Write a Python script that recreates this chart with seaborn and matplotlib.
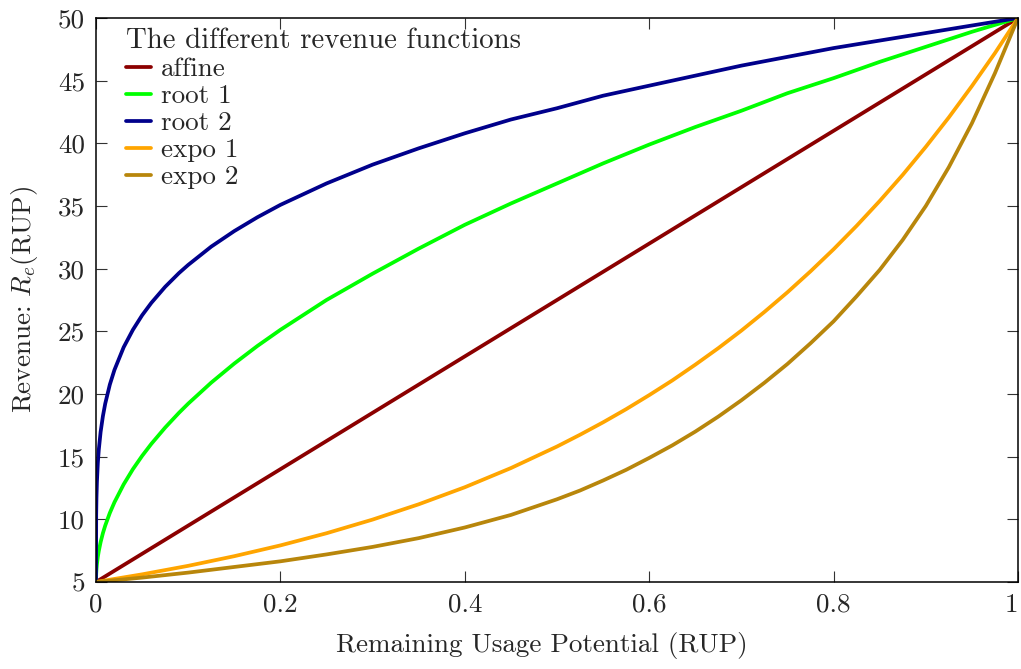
import pandas as pd
import matplotlib
matplotlib.use("Agg")
import matplotlib.pyplot as plt
import seaborn as sns

# values
x_root = [0, 0.0002, 0.0005, 0.001, 0.002, 0.003, 0.005, 0.0075, 0.01, 0.015,
          0.02, 0.03, 0.04, 0.05, 0.06, 0.075, 0.09, 0.1, 0.125, 0.15, 0.175,
          0.2, 0.25, 0.3, 0.35, 0.4, 0.45, 0.5, 0.55, 0.6, 0.65, 0.7, 0.75,
          0.8, 0.85, 0.9, 0.95, 1]
root1 = [5, 5.64, 6.0, 6.42, 7.01, 7.46, 8.18, 8.9, 9.5, 10.51,
         11.36, 12.79, 14.0, 15.06, 16.02, 17.32, 18.5, 19.23, 20.91, 22.43, 23.83,
         25.12, 27.5, 29.6, 31.6, 33.5, 35.2, 36.8, 38.4, 39.9, 41.3, 42.6, 44.0,
         45.2, 46.5, 47.7, 48.9, 50]
root2 = [5, 10.35, 11.73, 13.0, 14.52, 15.53, 16.97, 18.24, 19.23, 20.75,
         21.92, 23.73, 25.12, 26.28, 27.27, 28.55, 29.65, 30.3, 31.76, 33.0, 34.1,
         35.09, 36.8, 38.3, 39.6, 40.8, 41.9, 42.8, 43.8, 44.6, 45.4, 46.2, 46.9,
         47.6, 48.2, 48.8, 49.4, 50]

x_lin = [0, 1]
affine = [5, 50]

x_expo = [0, 0.05, 0.1, 0.15, 0.2, 0.25, 0.3, 0.35, 0.4, 0.45, 0.5, 0.525,
          0.55, 0.575, 0.6, 0.625, 0.65, 0.675, 0.7, 0.725, 0.75, 0.775, 0.8,
          0.825, 0.85, 0.875, 0.9, 0.925, 0.95, 0.975, 1]
expo1 = [5, 5.61, 6.29, 7.06, 7.92, 8.89, 9.98, 11.2, 12.56, 14.09, 15.81, 16.75,
         17.74, 18.79, 19.91, 21.08, 22.34, 23.66, 25.06, 26.55, 28.12, 29.79, 31.55,
         33.42, 35.4, 37.49, 39.72, 42.07, 44.57, 47.2, 50]
expo2 = [5, 5.35, 5.75, 6.2, 6.65, 7.2, 7.8, 8.5, 9.35, 10.35, 11.6, 12.3,
         13.1, 13.95, 14.9, 15.9, 17.0, 18.2, 19.5, 20.9, 22.4, 24.05, 25.8,
         27.8, 29.9, 32.3, 35.0, 38.1, 41.6, 45.6, 50]

x_ticks = [0, 0.2, 0.4, 0.6, 0.8, 1]
x_tick_labels = ["0", "0.2", "0.4", "0.6", "0.8", "1"]
y_ticks = [5, 10, 15, 20, 25, 30, 35, 40, 45, 50]

colors = {
    "affine": "#8b0000",
    "root 1": "#00ff00",
    "root 2": "#00008b",
    "expo 1": "#ffa500",
    "expo 2": "#b8860b",
}

frames = [
    pd.DataFrame({"rup": x_lin, "rev": affine, "function": "affine"}),
    pd.DataFrame({"rup": x_root, "rev": root1, "function": "root 1"}),
    pd.DataFrame({"rup": x_root, "rev": root2, "function": "root 2"}),
    pd.DataFrame({"rup": x_expo, "rev": expo1, "function": "expo 1"}),
    pd.DataFrame({"rup": x_expo, "rev": expo2, "function": "expo 2"}),
]
df = pd.concat(frames, ignore_index=True)

sns.set_theme(style="ticks")
plt.rcParams["font.family"] = ["cmr10", "DejaVu Serif"]
plt.rcParams["mathtext.fontset"] = "cm"
plt.rcParams["axes.unicode_minus"] = False

fig = plt.figure(figsize=(10.21, 6.69), dpi=100)
ax = fig.add_axes([96 / 1021, 1 - 582 / 669, (1018 - 96) / 1021, (582 - 18) / 669])

sns.lineplot(data=df, x="rup", y="rev", hue="function", palette=colors,
             linewidth=2.7, sort=False, estimator=None, ax=ax)

ax.set_xlim(0, 1)
ax.set_ylim(5, 50)
ax.set_xticks(x_ticks)
ax.set_xticklabels(x_tick_labels)
ax.set_yticks(y_ticks)
ax.tick_params(direction="in", length=8, width=0.8, top=True, right=True,
               labelsize=19.5, pad=8, color="#333333")
ax.get_xticklabels()[-1].set_horizontalalignment("right")
for s in ax.spines.values():
    s.set_linewidth(1.1)
    s.set_color("black")

ax.set_xlabel("Remaining Usage Potential (RUP)", fontsize=19.5)
ax.xaxis.set_label_coords(0.483, -0.088)
ax.set_ylabel("Revenue: $R_e$(RUP)", fontsize=19.5, labelpad=13)

leg = ax.legend(title="The different revenue functions", loc="upper left",
                bbox_to_anchor=(0.032, 0.982), frameon=False,
                fontsize=19.5, title_fontsize=20.8,
                handlelength=0.95, handletextpad=0.35, labelspacing=0.11,
                borderaxespad=0, borderpad=0, alignment="left")

fig.savefig("out.png", dpi=100)
